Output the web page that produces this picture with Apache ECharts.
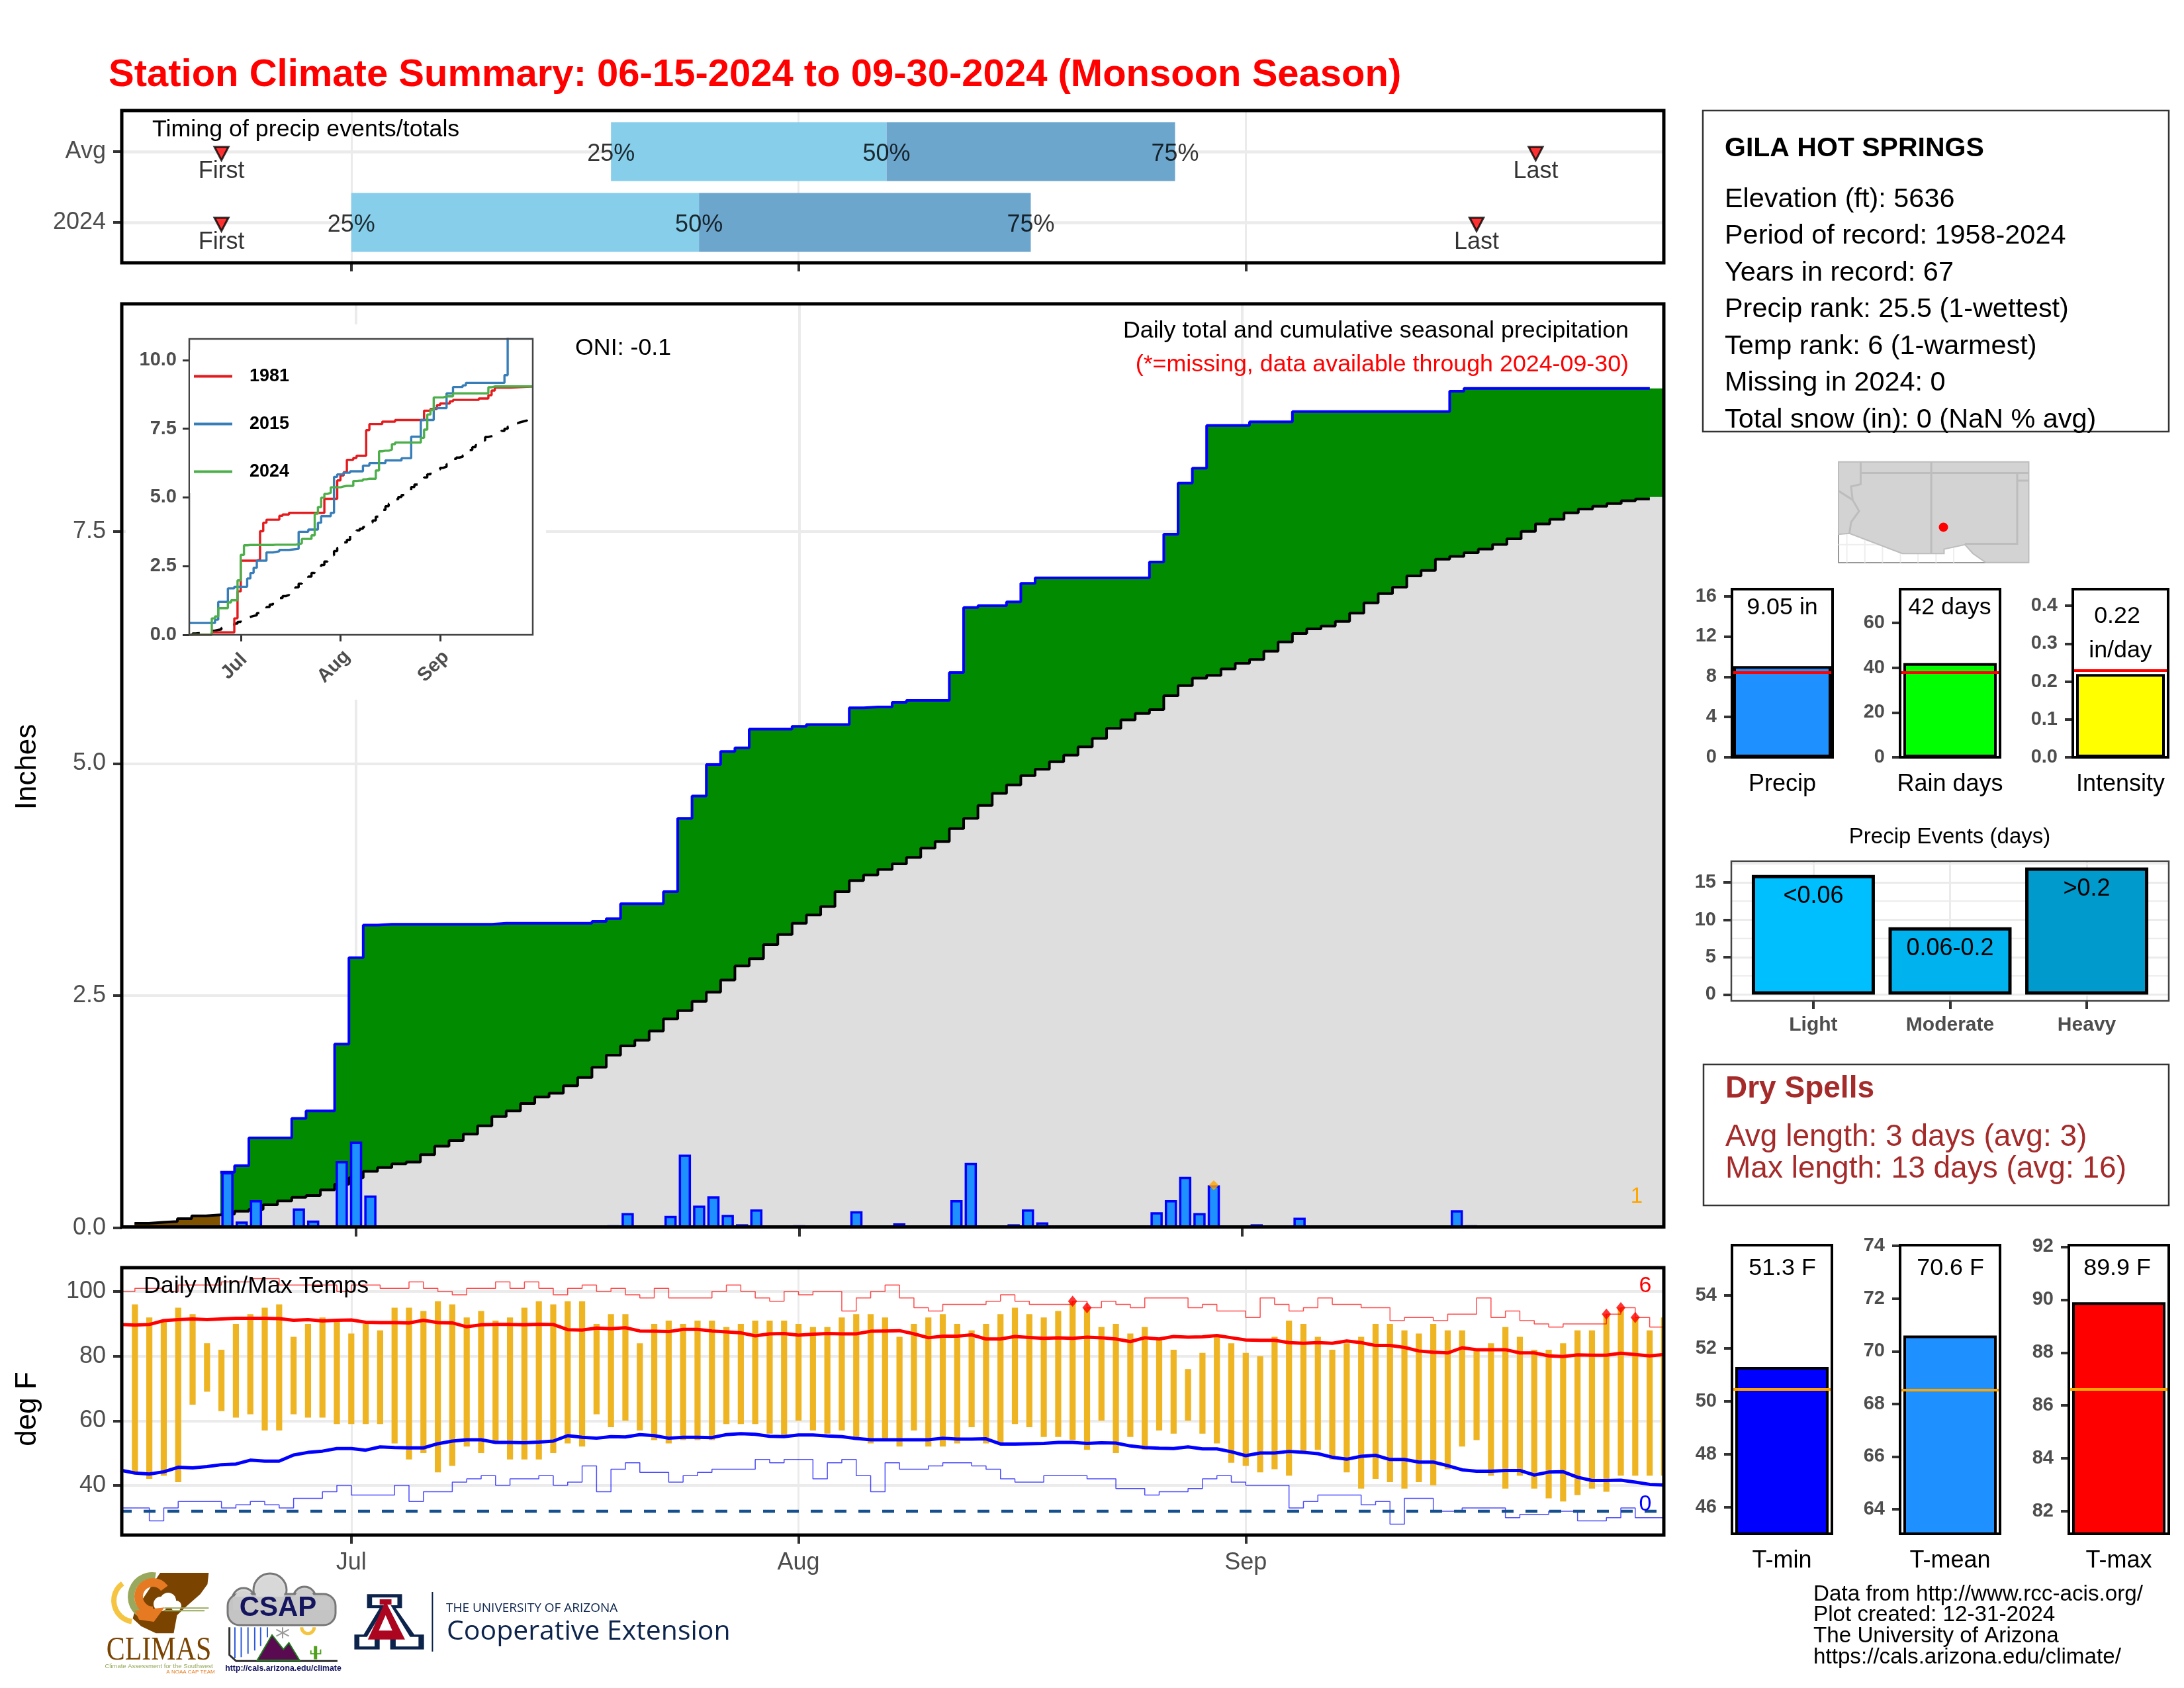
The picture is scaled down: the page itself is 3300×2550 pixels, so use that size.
<!doctype html>
<html>
<head>
<meta charset="utf-8">
<title>Station Climate Summary</title>
<script src="https://cdn.jsdelivr.net/npm/echarts@6/dist/echarts.min.js"></script>
<style>
html,body{margin:0;padding:0;background:#fff}
#main{width:3300px;height:2550px}
</style>
</head>
<body>
<div id="main"></div>
<script>
// day index: 0 = Jun 15, 107 = Sep 30
var monthTicks = [16, 47, 78];
var monthNames = ['Jul', 'Aug', 'Sep'];

var dailyPrecip = [
  0,0,0,0,0,0,0,.6,.07,.3,
  0,0,.21,.08,0,.72,.93,.35,0,0,
  0,0,0,0,0,0,.01,0,0,0,
  0,0,0,.02,.03,.16,0,0,.13,.79,
  .24,.34,.14,.04,.2,0,0,.03,.01,0,
  0,.18,.01,0,.05,.02,0,0,.3,.7,
  .02,0,.04,.2,.06,0,0,0,0,0,
  0,0,.17,.3,.55,.16,.46,0,0,.04,
  0,0,.11,0,0,0,0,0,0,0,
  0,0,0,.19,.03,0,0,0,0,0,
  0,0,0,0,0,0,0,0];
var cumPrecip = [
  0,0,0,0,0,0,0,.6,.67,.97,
  .97,.97,1.18,1.26,1.26,1.98,2.91,3.26,3.27,3.27,
  3.27,3.27,3.27,3.27,3.27,3.27,3.28,3.28,3.28,3.28,
  3.28,3.28,3.28,3.3,3.33,3.49,3.49,3.49,3.62,4.41,
  4.65,4.99,5.13,5.17,5.37,5.37,5.37,5.4,5.42,5.42,
  5.42,5.6,5.61,5.61,5.66,5.68,5.68,5.68,5.98,6.68,
  6.7,6.7,6.74,6.94,7,7,7,7,7,7,
  7,7,7.17,7.47,8.02,8.18,8.64,8.64,8.64,8.68,
  8.68,8.68,8.79,8.79,8.79,8.79,8.79,8.79,8.79,8.79,
  8.79,8.79,8.79,9.01,9.04,9.04,9.04,9.04,9.04,9.04,
  9.04,9.04,9.04,9.04,9.04,9.04,9.04,9.04];
var climCum = [
  0,.05,.06,.07,.1,.13,.14,.15,.18,.2,
  .25,.29,.33,.35,.41,.47,.54,.61,.65,.69,
  .71,.79,.88,.94,1.01,1.1,1.2,1.26,1.34,1.41,
  1.45,1.53,1.62,1.73,1.86,1.96,2.02,2.12,2.25,2.34,
  2.44,2.54,2.67,2.82,2.9,3.05,3.16,3.28,3.37,3.46,
  3.62,3.74,3.8,3.86,3.92,3.99,4.09,4.16,4.3,4.41,
  4.55,4.68,4.77,4.87,4.94,5.02,5.09,5.18,5.27,5.38,
  5.47,5.54,5.58,5.73,5.84,5.92,5.95,6.02,6.08,6.12,
  6.21,6.31,6.4,6.45,6.48,6.53,6.62,6.73,6.83,6.9,
  7.02,7.08,7.2,7.23,7.27,7.31,7.36,7.42,7.5,7.58,
  7.63,7.7,7.74,7.77,7.8,7.83,7.85,7.87];
// [day, cumulative inches] at each change
var year1981 = [[0,0],[7,.09],[14,.6],[15,1.58],[16,2.7],[21,2.74],[22,3.77],[23,4.08],[24,4.19],[28,4.33],[29,4.38],[31,4.44],[42,4.95],[46,5.62],[47,5.8],[48,5.92],[49,6.37],[51,6.44],[52,6.52],[55,7.45],[56,7.67],[60,7.76],[64,7.82],[73,8.16],[75,8.22],[77,8.36],[78,8.42],[81,8.5],[82,8.55],[90,8.6],[93,8.72],[94,8.89],[95,9],[100,9.04],[107,9.04]];
var year2015 = [[0,.43],[8,.55],[9,1.2],[12,1.69],[14,1.75],[18,2.05],[19,2.25],[20,2.44],[21,2.7],[24,3],[26,3.04],[28,3.09],[31,3.13],[34,3.75],[37,3.83],[40,4.08],[41,4.32],[44,4.44],[45,5.75],[46,5.84],[48,5.9],[50,5.95],[54,6.16],[56,6.25],[61,6.35],[66,6.43],[69,7.21],[72,7.82],[76,8.25],[80,8.79],[82,9.02],[85,9.08],[86,9.17],[98,9.45],[99,10.85],[107,10.85]];

var tempHigh = [
  null,96,92,91,95,93,84,82,90,93,
  95,96,86,90,92,91,87,90,88,95,
  95,94,97,96,92,94,91,92,95,97,
  96,97,97,90,93,93,84,90,91,90,
  91,91,89,90,91,91,91,90,89,89,
  92,93,93,92,86,90,92,93,90,88,
  90,93,95,93,92,94,97,95,89,90,
  87,89,85,82,76,81,86,84,81,80,
  86,91,90,86,82,84,86,90,90,88,
  87,90,88,88,82,84,89,86,82,82,
  84,88,88,93,95,92,88,92];
var tempLow = [
  null,44,42,43,41,65,69,63,61,62,
  57,57,62,61,61,59,59,59,59,53,
  48,50,44,46,52,50,53,48,48,48,
  50,53,52,62,58,60,57,54,53,54,
  54,54,59,59,59,56,55,60,57,56,
  57,54,53,54,52,57,52,52,53,58,
  53,53,59,58,55,55,54,51,60,50,
  55,51,57,56,60,56,53,47,46,44,
  45,43,50,51,48,44,39,42,41,39,
  41,40,45,52,54,43,39,43,39,36,
  35,37,39,38,43,43,43,43];
var recordHigh = [
  100,101,101,100,102,102,102,103,103,104,
  104,102,102,102,102,100,102,102,101,101,
  103,101,100,99,101,101,103,101,103,101,
  99,101,102,100,101,99,98,101,98,98,
  98,100,102,100,98,97,100,99,100,100,
  94,98,100,102,98,95,94,96,96,96,
  97,99,97,96,96,96,97,95,97,96,
  95,98,98,98,95,96,94,94,92,98,
  96,94,95,98,96,96,95,95,91,92,
  92,91,93,93,98,92,94,91,90,89,
  90,90,90,93,95,92,89,89];
var recordLow = [
  33,33,29,33,35,35,35,33,34,35,
  34,33,36,36,38,40,37,37,37,40,
  35,38,38,41,42,43,40,42,42,43,
  40,41,46,38,45,47,44,44,41,43,
  44,45,45,45,48,47,48,48,42,47,
  48,43,38,47,45,45,46,47,47,46,
  45,42,41,41,43,43,43,42,42,39,
  39,37,38,38,39,42,43,41,40,40,
  40,33,35,37,37,37,34,35,28,36,
  36,32,32,33,33,33,30,31,31,32,
  32,29,29,30,33,30,30,30];
var meanHigh = [
  89.8,89.6,89.8,91,91.3,91.5,91.3,91.5,91.7,91.7,
  91.7,91.6,91.1,91.3,90.9,91.1,91.2,90.5,90.4,90.4,
  90.3,91.1,90.4,90.3,89.1,89.7,89.8,89.8,89.7,89.9,
  89.8,88.2,88.1,88.7,88.5,88.8,87.8,87.7,87.6,88.3,
  88.3,87.8,87.5,87.2,86.3,86.9,87,86.5,86.8,87,
  86.9,86.9,87.7,87.8,87.9,86.9,85.7,86.2,86.2,86.6,
  85.3,85.3,86.1,85.8,85.5,85.7,85.5,85.9,85.7,85.3,
  84.5,85.7,85.3,86.1,85.9,86,86.4,85.7,85,84.9,
  84.9,84.2,84,84.2,84,84.7,84.2,83.3,83.3,82.7,
  81.6,81.2,81,82.6,82,82,82,81,81,80.1,
  79.9,80.4,80.3,80.3,80.9,80.5,80.1,80.5];
var meanLow = [
  44.7,43.8,43.5,44.2,45.6,45.4,45.8,46.4,46.6,47.8,
  47.5,47.5,49.4,50.2,50.6,51.4,51.4,50.9,51.9,51.7,
  51.6,51.6,52.9,53.7,54.1,54.1,53.3,53.3,53.2,53.4,
  53.7,55.4,54.9,54.6,55.1,55,55.7,55.4,54.6,54.9,
  54.9,54.8,55.7,56,55.8,55.2,55.1,55.6,55.6,55.3,
  55.1,54.5,54.1,54.1,54.1,54.1,54.1,54.6,54.3,54.3,
  54.4,52.8,52.8,52.9,53,53.3,53.3,53,53.2,53.1,
  52.2,51.7,51.5,51.4,51.9,51.3,51.3,50.4,49.2,50,
  50,50.5,50.2,49.8,48.7,48.1,49,49.3,48,48,
  47.2,47.2,46.1,44.8,44.4,44.4,44.6,44.6,43.2,44.1,
  44.2,42.5,41.5,41.5,41.6,41,40.3,40.1];
var freezeLine = 32;
var recordDays = [66, 67, 103, 104, 105, 107];
var recordVals = [97, 95, 93, 95, 92, 92];
var wetRecordDay = 76, wetRecordVal = .46;

// timing panel, row 2 = Avg, row 1 = 2024
var timingRows = ['2024', 'Avg'];
var timingAvg = [34, 53.1, 73.1];
var timing2024 = [16, 40.1, 63.1];
var firstDays = [7, 7];
var lastDays = [94, 98.1];

var eventNames = ['Light', 'Moderate', 'Heavy'];
var eventDays = [16, 9, 17];
var eventLabels = ['<0.06', '0.06-0.2', '>0.2'];

var stationLines = ['Elevation (ft): 5636', 'Period of record: 1958-2024', 'Years in record: 67', 'Precip rank: 25.5 (1-wettest)', 'Temp rank: 6 (1-warmest)', 'Missing in 2024: 0', 'Total snow (in): 0 (NaN % avg)'];

var summaryNames = ['Precip', 'Rain days', 'Intensity', 'T-min', 'T-mean', 'T-max'];
var summaryVals = [9.05, 42, .22, 51.3, 70.6, 89.9];
var summaryAvg = [8.42, 37.9, .225, 50.46, 68.54, 86.6];
var summaryTicks = [[0,4,8,12,16], [0,20,40,60], [0,.1,.2,.3,.4], [46,48,50,52,54], [64,66,68,70,72,74], [82,84,86,88,90,92]];

var FONT = '"Liberation Sans", Arial, sans-serif';
var GREY = '#4d4d4d';
var GRID = '#ebebeb';
var TEXT_DROP = 3.5;

var chart = echarts.init(document.getElementById('main'));
var grids = [], xAxes = [], yAxes = [], series = [], gfx = [];

function stepPts(vals, first, last, startX, endX) {
  var pts = [];
  for (var d = first; d <= last; d++) {
    pts.push([d === first && startX !== undefined ? startX : d - .5, vals[d]]);
    pts.push([d === last && endX !== undefined ? endX : d + .5, vals[d]]);
  }
  return pts;
}
function indexed(vals) {
  return vals.map(function (v, i) { return [i, v]; });
}
function addGrid(l, t, w, h) {
  grids.push({left: l, top: t, width: w, height: h, show: false, containLabel: false});
  return grids.length - 1;
}
function axis(g, min, max, ticks, o) {
  o = o || {};
  return {
    gridIndex: g, type: 'value', min: min, max: max, z: o.z || 0,
    axisLine: {show: false, onZero: false},
    axisTick: {show: o.tick !== false, customValues: ticks, length: o.tickLen || 13, lineStyle: {color: '#333', width: o.tickW || 4}},
    splitLine: {show: !!o.split, lineStyle: {color: GRID, width: o.split || 3}},
    axisLabel: {
      show: !!o.fmt, customValues: ticks, formatter: o.fmt, margin: o.margin || 24, rotate: o.rotate || 0,
      fontSize: o.size || 36, fontWeight: o.bold ? 'bold' : 'normal', color: o.color || GREY, fontFamily: FONT,
      align: o.align, verticalAlign: o.vAlign, padding: o.pad || [8, 0, 0, 0]
    }
  };
}
function monthFmt(v) { return monthNames[monthTicks.indexOf(v)]; }
function line(g, name, data, color, width, o) {
  o = o || {};
  var s = {
    type: 'line', name: name, xAxisIndex: g, yAxisIndex: g, data: data, showSymbol: false, symbol: 'none',
    color: color, lineStyle: {color: color, width: width, type: o.dash || 'solid', dashOffset: o.dashOffset || 0, opacity: o.opacity === undefined ? 1 : o.opacity},
    z: o.z || 3, silent: true, animation: false
  };
  if (o.area) { s.areaStyle = {color: o.area, opacity: 1}; }
  if (o.step) { s.step = o.step; }
  series.push(s);
}
function txt(x, y, text, o) {
  o = o || {};
  gfx.push({
    type: 'text', x: x, y: y + TEXT_DROP, rotation: o.rot || 0, scaleY: o.scaleY || 1, z: o.z || 20, silent: true,
    style: {
      text: text, x: 0, y: 0, fill: o.color || '#000', textAlign: o.align || 'left', textVerticalAlign: 'middle',
      font: (o.bold ? 'bold ' : '') + (o.size || 35.8) + 'px ' + (o.family || FONT)
    }
  });
}
function frame(x, y, w, h, lw, color, z) {
  gfx.push({type: 'rect', z: z || 15, silent: true, shape: {x: x, y: y, width: w, height: h}, style: {fill: 'none', stroke: color || '#000', lineWidth: lw || 5}});
}

// ---------- timing panel
var g0 = addGrid(184, 167, 2330, 230);
xAxes.push(axis(g0, .09, 106.98, monthTicks, {split: 3}));
yAxes.push(axis(g0, .43, 2.58, [1, 2], {split: 4.5, fmt: function (v) { return timingRows[v - 1]; }}));
function renderSegment(params, api) {
  var p0 = api.coord([api.value(0), api.value(2) + .416]);
  var p1 = api.coord([api.value(1), api.value(2) - .416]);
  return {type: 'rect', shape: {x: p0[0], y: p0[1], width: p1[0] - p0[0], height: p1[1] - p0[1]}, style: {fill: api.visual('color')}};
}
series.push({type: 'custom', xAxisIndex: g0, yAxisIndex: g0, renderItem: renderSegment, color: '#87ceeb', z: 2, silent: true, animation: false,
  data: [[timingAvg[0], timingAvg[1], 2], [timing2024[0], timing2024[1], 1]]});
series.push({type: 'custom', xAxisIndex: g0, yAxisIndex: g0, renderItem: renderSegment, color: '#6ca6cd', z: 2, silent: true, animation: false,
  data: [[timingAvg[1], timingAvg[2], 2], [timing2024[1], timing2024[2], 1]]});
var pctData = [];
['25%', '50%', '75%'].forEach(function (p, i) {
  pctData.push({value: [timingAvg[i], 2], name: p});
  pctData.push({value: [timing2024[i], 1], name: p});
});
series.push({type: 'scatter', xAxisIndex: g0, yAxisIndex: g0, data: pctData, symbolSize: 1, itemStyle: {color: 'transparent'}, z: 4, silent: true, animation: false,
  label: {show: true, position: 'inside', formatter: '{b}', fontSize: 36, color: '#000', fontFamily: FONT, offset: [0, 4]}});
var markData = [
  {value: [firstDays[1], 2], name: 'First'}, {value: [firstDays[0], 1], name: 'First'},
  {value: [lastDays[1], 2], name: 'Last'}, {value: [lastDays[0], 1], name: 'Last'}
];
series.push({type: 'scatter', xAxisIndex: g0, yAxisIndex: g0, data: markData, symbol: 'triangle', symbolRotate: 180, symbolSize: [21, 20], symbolOffset: [0, 3],
  itemStyle: {color: '#f00', borderColor: '#000', borderWidth: 3}, z: 4, silent: true, animation: false,
  label: {show: true, position: 'bottom', distance: -2, formatter: '{b}', fontSize: 36, color: '#000', fontFamily: FONT}});
frame(184, 167, 2330, 230);
txt(230, 193, 'Timing of precip events/totals');

// ---------- main precip panel
var g1 = addGrid(184, 459, 2330, 1396);
xAxes.push(axis(g1, -.39, 107.48, monthTicks, {split: 4}));
yAxes.push(axis(g1, 0, 9.95, [0, 2.5, 5, 7.5], {split: 4, fmt: function (v) { return v.toFixed(1); }}));
line(g1, 'clim fill', stepPts(climCum, 0, 107, -1, 109), 'transparent', 0, {area: '#7f5200', z: 2});
line(g1, 'wet fill', stepPts(cumPrecip, 0, 107, -1, 109), 'transparent', 0, {area: '#008b00', z: 2});
line(g1, 'clim base', stepPts(climCum, 7, 107, 6.5, 109), 'transparent', 0, {area: '#dedede', z: 2});
line(g1, 'clim line', stepPts(climCum, 1, 106), '#000', 4, {z: 3});
line(g1, 'cum line', stepPts(cumPrecip, 7, 106), '#0000ff', 4, {z: 3});
series.push({type: 'bar', xAxisIndex: g1, yAxisIndex: g1, barWidth: 18.5, z: 4, silent: true, animation: false,
  data: indexed(dailyPrecip).filter(function (p) { return p[1] > 0; }),
  itemStyle: {color: '#1e90ff', borderColor: '#0000ff', borderWidth: 3.5}});
series.push({type: 'scatter', xAxisIndex: g1, yAxisIndex: g1, data: [[wetRecordDay, wetRecordVal]], symbol: 'diamond', symbolSize: 15, itemStyle: {color: '#ffa500'}, z: 5, silent: true, animation: false});
gfx.push({type: 'rect', z: 1, silent: true, shape: {x: 190, y: 490, width: 635, height: 567}, style: {fill: '#fff'}});
frame(184, 459, 2330, 1394.5);
txt(869, 523, 'ONI: -0.1');
txt(2461, 497, 'Daily total and cumulative seasonal precipitation', {align: 'right'});
txt(2461, 548, '(*=missing, data available through 2024-09-30)', {align: 'right', color: '#f00'});
txt(2473, 1804, '1', {color: '#ffa500', align: 'center', size: 33});
txt(42, 1155, 'Inches', {rot: Math.PI / 2, align: 'center', size: 44});

// ---------- cumulative inset
var g2 = addGrid(286, 512, 519, 447);
xAxes.push(axis(g2, 0, 106.8, monthTicks, {z: 3, tickLen: 10, tickW: 3, fmt: monthFmt, bold: true, size: 29, rotate: 45, margin: 38, align: 'center', vAlign: 'middle', pad: [0, 28, 0, 0]}));
yAxes.push(axis(g2, 0, 10.77, [0, 2.5, 5, 7.5, 10], {z: 3, tickLen: 10, tickW: 3, fmt: function (v) { return v.toFixed(1); }, bold: true, size: 29, margin: 19}));
line(g2, 'clim', indexed(climCum).slice(0, 106), '#000', 3.5, {step: 'end', dash: [18, 18], z: 6});
line(g2, '1981', year1981, '#e41a1c', 3.4, {step: 'end', z: 6});
line(g2, '2015', year2015, '#377eb8', 3.4, {step: 'end', z: 6});
line(g2, '2024', indexed(cumPrecip), '#4daf4a', 3.4, {step: 'end', z: 6});
frame(286, 512, 519, 447, 2.5, '#444', 7);

// ---------- temperature panel
var g3 = addGrid(184, 1915, 2330, 404);
xAxes.push(axis(g3, .09, 106.98, monthTicks, {split: 3, fmt: monthFmt, margin: 20, pad: [4, 0, 0, 0]}));
yAxes.push(axis(g3, 24.6, 107.4, [40, 60, 80, 100], {split: 4, fmt: String}));
var rangeData = [];
tempHigh.forEach(function (v, i) { if (v !== null) { rangeData.push([i, tempLow[i], v]); } });
series.push({type: 'custom', xAxisIndex: g3, yAxisIndex: g3, data: rangeData, clip: true, z: 2, silent: true, animation: false,
  renderItem: function (params, api) {
    var a = api.coord([api.value(0), api.value(2)]), b = api.coord([api.value(0), api.value(1)]);
    return {type: 'rect', shape: {x: a[0] - 4.6, y: a[1], width: 9.2, height: b[1] - a[1]}, style: {fill: '#eeb422'}};
  }});
line(g3, 'record high', indexed(recordHigh), '#ff0000', 1.5, {step: 'end', opacity: .7});
line(g3, 'record low', indexed(recordLow), '#0000ff', 1.5, {step: 'end', opacity: .7});
line(g3, 'mean high', indexed(meanHigh), '#ff0000', 5);
line(g3, 'mean low', indexed(meanLow), '#0000ff', 5);
line(g3, 'freeze', [[.09, freezeLine], [106.98, freezeLine]], '#154f8d', 4.5, {dash: [18, 18], dashOffset: 3});
series.push({type: 'scatter', xAxisIndex: g3, yAxisIndex: g3, symbol: 'diamond', symbolSize: [14, 17], itemStyle: {color: '#f00'}, z: 5, silent: true, animation: false,
  data: recordDays.map(function (d, i) { return [d, recordVals[i]]; })});
frame(184, 1915, 2330, 404);
txt(217, 1940, 'Daily Min/Max Temps');
txt(2486, 1939, '6', {color: '#f00', align: 'center', size: 34});
txt(2486, 2269, '0', {color: '#0000ff', align: 'center', size: 34});
txt(42, 2125, 'deg F', {rot: Math.PI / 2, align: 'center', size: 44});

// ---------- summary bars
function summaryPanel(i, l, r, t, b, min, max, barW, fill, avgColor, fmt) {
  var g = addGrid(l, t, r - l, b - t);
  xAxes.push({gridIndex: g, type: 'category', data: [summaryNames[i]], axisLine: {show: false, onZero: false}, axisTick: {show: false},
    axisLabel: {fontSize: 36, color: '#000', margin: 23, fontFamily: FONT}});
  yAxes.push(axis(g, min, max, summaryTicks[i], {tickLen: 12, fmt: fmt, bold: true, size: 29, margin: 23}));
  series.push({type: 'bar', xAxisIndex: g, yAxisIndex: g, barWidth: barW, data: [summaryVals[i]], z: 3, silent: true, animation: false,
    itemStyle: {color: fill, borderColor: '#000', borderWidth: 4},
    markLine: {silent: true, symbol: 'none', animation: false, label: {show: false}, lineStyle: {color: avgColor, width: 4, type: 'solid'}, data: [{yAxis: summaryAvg[i]}]}});
  frame(l, t, r - l, b - t, 4);
}
summaryPanel(0, 2617, 2769, 890, 1144, 0, 16.7, 148, '#1e90ff', '#f00', String);
summaryPanel(1, 2871, 3022, 890, 1144, 0, 75, 141, '#00ff00', '#f00', String);
summaryPanel(2, 3132, 3276, 890, 1144, 0, .444, 134, '#ffff00', '#f00', function (v) { return v.toFixed(1); });
summaryPanel(3, 2617, 2768, 1881, 2317, 45, 55.9, 141, '#0000ff', '#ffa500', String);
summaryPanel(4, 2871, 3022, 1881, 2317, 63.07, 74.03, 141, '#1e90ff', '#ffa500', String);
summaryPanel(5, 3126, 3277, 1881, 2317, 81.15, 92.06, 141, '#ff0000', '#ffa500', String);
txt(2693, 915, '9.05 in', {align: 'center'});
txt(2946, 915, '42 days', {align: 'center'});
txt(3199, 928, '0.22', {align: 'center'});
txt(3204, 980, 'in/day', {align: 'center'});
txt(2693, 1913, summaryVals[3].toFixed(1) + ' F', {align: 'center'});
txt(2947, 1913, summaryVals[4].toFixed(1) + ' F', {align: 'center'});
txt(3199, 1913, summaryVals[5].toFixed(1) + ' F', {align: 'center'});

// ---------- precip events
var g4 = addGrid(2616, 1301, 661, 211);
xAxes.push(axis(g4, .4, 3.6, [1, 2, 3], {split: 3, tickLen: 12, fmt: function (v) { return eventNames[v - 1]; }, bold: true, size: 30, margin: 18, pad: [4, 0, 0, 0]}));
yAxes.push(axis(g4, -.85, 17.85, [0, 5, 10, 15], {split: 3, tickLen: 12, fmt: String, bold: true, size: 29, margin: 23}));
series.push({type: 'custom', xAxisIndex: g4, yAxisIndex: g4, data: [2.5, 7.5, 12.5, 17.5].map(function (v) { return [v]; }), z: 1, silent: true, animation: false, clip: true,
  renderItem: function (params, api) {
    var a = api.coord([.4, api.value(0)]), b = api.coord([3.6, api.value(0)]);
    return {type: 'line', shape: {x1: a[0], y1: a[1], x2: b[0], y2: b[1]}, style: {stroke: GRID, lineWidth: 2}};
  }});
series.push({type: 'bar', xAxisIndex: g4, yAxisIndex: g4, barWidth: 186, z: 3, silent: true, animation: false,
  data: eventDays.map(function (v, i) {
    return {value: [i + 1, v], itemStyle: {color: ['#00bfff', '#00b2ee', '#009acd'][i]}, label: {formatter: eventLabels[i]}};
  }),
  itemStyle: {borderColor: '#000', borderWidth: 5},
  label: {show: true, position: 'insideTop', distance: 14, fontSize: 36, color: '#000', fontFamily: FONT}});
frame(2616, 1301, 661, 211, 2.5, '#444');
txt(2946, 1261, 'Precip Events (days)', {align: 'center', size: 33});

// ---------- info boxes
frame(2573, 167, 704, 485, 2.5, '#333');
txt(2606, 221, 'GILA HOT SPRINGS', {bold: true, size: 41});
stationLines.forEach(function (s, i) { txt(2606, 298 + i * 55.5, s, {size: 41.4}); });
frame(2574, 1608, 703, 213, 2.5, '#333');
txt(2607, 1642, 'Dry Spells', {bold: true, size: 46, color: '#a52a2a'});
txt(2607, 1715, 'Avg length: 3 days (avg: 3)', {size: 46, color: '#a52a2a'});
txt(2607, 1763, 'Max length: 13 days (avg: 16)', {size: 46, color: '#a52a2a'});

['Data from http://www.rcc-acis.org/', 'Plot created: 12-31-2024', 'The University of Arizona', 'https://cals.arizona.edu/climate/'].forEach(function (s, i) {
  txt(2740, 2405 + i * 31.8, s, {size: 33.2});
});
txt(164, 110, 'Station Climate Summary: 06-15-2024 to 09-30-2024 (Monsoon Season)', {bold: true, size: 58, color: '#f00'});

// ---------- locator map
function mp(p) { return [2540 + p[0] / 2.063, 150 + p[1] / 1.479]; }
gfx.push({type: 'rect', z: 5, silent: true, shape: {x: 2778, y: 698, width: 287, height: 152}, style: {fill: '#fff', stroke: '#777', lineWidth: 1.5}});
[517, 573, 628, 684, 739, 795, 850].forEach(function (zx) {
  gfx.push({type: 'polyline', z: 6, silent: true, shape: {points: [mp([zx, 970]), mp([zx, 1035])]}, style: {stroke: '#eee', lineWidth: 2}});
});
gfx.push({type: 'polyline', z: 6, silent: true, shape: {points: [mp([491, 995]), mp([950, 995])]}, style: {stroke: '#eee', lineWidth: 2}});
gfx.push({type: 'polygon', z: 7, silent: true, shape: {points: [[491, 810], [1084, 810], [1084, 1035], [950, 1035], [910, 1015], [885, 995], [820, 1005], [820, 1015], [690, 1015], [525, 970], [491, 972]].map(mp)}, style: {fill: '#d3d3d3', stroke: '#bdbdbd', lineWidth: 2}});
[
  [[560, 810], [560, 860], [530, 865], [535, 895], [555, 920], [530, 945], [525, 970]],
  [[491, 875], [535, 895]],
  [[560, 835], [1084, 835]],
  [[780, 810], [780, 1015]],
  [[1048, 835], [1048, 993], [885, 993]],
  [[1048, 852], [1084, 852]]
].forEach(function (pts) {
  gfx.push({type: 'polyline', z: 8, silent: true, shape: {points: pts.map(mp)}, style: {stroke: '#bdbdbd', lineWidth: 3, fill: 'none'}});
});
gfx.push({type: 'circle', z: 9, silent: true, shape: {cx: mp([818, 0])[0], cy: mp([0, 956])[1], r: 7}, style: {fill: '#f00'}});

// ---------- logos
function lg(p) { return [140 + p[0] / 1.568, 2350 + p[1] / 3]; }
function poly(pts, fill, stroke, lw) {
  gfx.push({type: 'polygon', z: 5, silent: true, shape: {points: pts.map(lg)}, style: {fill: fill, stroke: stroke || 'none', lineWidth: lw || 0}});
}
function seg(pts, stroke, lw) {
  gfx.push({type: 'polyline', z: 5, silent: true, shape: {points: pts.map(lg)}, style: {stroke: stroke, lineWidth: lw, fill: 'none'}});
}
function disc(cx, cy, r, fill, stroke, lw) {
  gfx.push({type: 'circle', z: 5, silent: true, shape: {cx: cx, cy: cy, r: r}, style: {fill: fill, stroke: stroke || 'none', lineWidth: lw || 0}});
}
function sector(cx, cy, r, r0, a0, a1, fill) {
  gfx.push({type: 'sector', z: 5, silent: true, shape: {cx: cx, cy: cy, r: r, r0: r0, startAngle: a0, endAngle: a1}, style: {fill: fill}});
}
poly([[160, 78], [275, 78], [272, 130], [255, 175], [225, 225], [200, 270], [192, 352], [150, 352], [115, 320], [95, 285], [100, 250]], '#7a4300');
sector(230, 2412, 37, 27, Math.PI * .55, Math.PI * 1.55, '#98a85c');
sector(231, 2412, 28, 15, Math.PI * .5, Math.PI * 1.8, '#e57a22');
sector(204, 2418, 36, 28, Math.PI * .55, Math.PI * 1.3, '#f5c542');
disc(243, 2423, 11, '#fff');
disc(254, 2418, 12, '#fff');
disc(266, 2426, 8, '#fff');
poly([[100, 250], [170, 235], [145, 300], [110, 290]], '#e57a22');
seg([[170, 238], [275, 238]], '#98a85c', 2);
seg([[170, 250], [265, 250]], '#98a85c', 2);
txt(240, 2490, 'CLIMAS', {align: 'center', size: 42, scaleY: 1.2, color: '#7a4300', family: '"Liberation Serif", serif'});
txt(240, 2514, 'Climate Assessment for the Southwest', {align: 'center', size: 9.5, color: '#94a85a'});
txt(288, 2522, 'A NOAA CAP TEAM', {align: 'center', size: 8, color: '#e57a22'});

disc(408, 2402, 25, '#dcdcdc', '#777', 3);
disc(368, 2416, 17, '#dcdcdc', '#777', 3);
disc(460, 2414, 17, '#d0d0d0', '#777', 3);
gfx.push({type: 'rect', z: 5, silent: true, shape: {x: 344, y: 2408, width: 163, height: 47, r: 18}, style: {fill: '#c4c4c4', stroke: '#777', lineWidth: 3}});
disc(408, 2404, 22, '#d8d8d8');
disc(368, 2418, 15, '#d4d4d4');
disc(460, 2416, 15, '#ccc');
gfx.push({type: 'rect', z: 5, silent: true, shape: {x: 352, y: 2412, width: 147, height: 20}, style: {fill: '#c8c8c8'}});
txt(420, 2426, 'CSAP', {align: 'center', bold: true, size: 42, color: '#14145f'});
[337, 352, 368, 384, 398, 414].forEach(function (zx, i) {
  seg([[zx, 325], [zx, [465, 460, 445, 430, 410, 370][i]]], '#2b5bd7', 2);
});
seg([[324, 325], [324, 450], [340, 478], [580, 478]], '#333', 3);
poly([[390, 474], [425, 360], [452, 425], [465, 395], [490, 474]], '#5a0a50', '#1a7a1a', 2);
seg([[528, 410], [528, 470]], '#4fa01a', 5);
seg([[517, 430], [517, 445], [540, 445], [540, 425]], '#4fa01a', 2);
sector(lg([510, 0])[0], lg([0, 325])[1], 12, 7, 0, Math.PI, '#f5c542');
seg([[450, 325], [450, 375]], '#999', 2);
seg([[435, 335], [465, 365]], '#999', 2);
seg([[435, 365], [465, 335]], '#999', 2);
txt(428, 2517, 'http://cals.arizona.edu/climate', {align: 'center', bold: true, size: 12.3, color: '#14145f'});

poly([[650, 175], [733, 175], [733, 238], [718, 238], [762, 358], [785, 358], [785, 425], [705, 425], [705, 358], [680, 358], [680, 358], [680, 425], [620, 425], [620, 358], [642, 358], [680, 238], [650, 238]], '#0c234b');
poly([[662, 190], [722, 190], [722, 225], [706, 225], [752, 368], [772, 368], [772, 412], [718, 412], [718, 368], [735, 368], [728, 340], [664, 340], [656, 368], [668, 368], [668, 412], [632, 412], [632, 368], [650, 368], [695, 225], [662, 225]], '#fff');
poly([[680, 198], [708, 198], [708, 222], [698, 222], [740, 380], [652, 380], [690, 222], [680, 222]], '#ab0520');
poly([[694, 270], [710, 340], [678, 340]], '#fff');
seg([[805, 165], [805, 435]], '#0c234b', 2);
txt(674, 2426, 'THE UNIVERSITY OF ARIZONA', {size: 19, color: '#0c234b', family: '"Open Sans", sans-serif'});
txt(675, 2462, 'Cooperative Extension', {size: 41, color: '#0c234b', family: '"Open Sans", sans-serif'});

chart.setOption({
  animation: false,
  backgroundColor: '#fff',
  textStyle: {fontFamily: FONT},
  tooltip: {show: false},
  legend: {
    data: ['1981', '2015', '2024'], orient: 'vertical', left: 287, top: 529, icon: 'rect', itemWidth: 58, itemHeight: 4, itemGap: 45,
    padding: [26, 12, 19, 6], backgroundColor: '#fff', selectedMode: false, z: 8,
    textStyle: {fontSize: 27, fontWeight: 'bold', color: '#000', fontFamily: FONT, padding: [3, 0, 0, 21]}
  },
  grid: grids,
  xAxis: xAxes,
  yAxis: yAxes,
  series: series,
  graphic: {elements: gfx}
});
</script>
</body>
</html>
